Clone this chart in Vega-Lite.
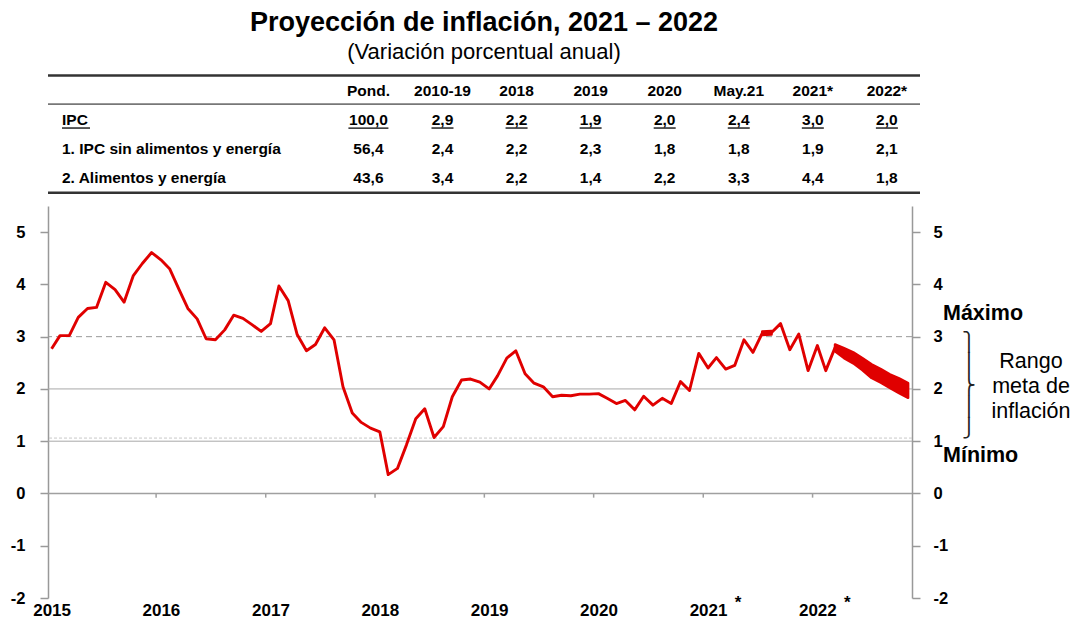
{
  "$schema": "https://vega.github.io/schema/vega-lite/v6.json",
  "background": "white",
  "padding": {"left": 10, "top": 9, "right": 5, "bottom": 0},
  "config": {"view": {"stroke": null}, "font": "Liberation Sans"},
  "bounds": "flush",
  "spacing": 11,
  "datasets": {
    "infl": [
      {"d": "2015-02-01", "v": 2.77}, {"d": "2015-03-01", "v": 3.02}, {"d": "2015-04-01", "v": 3.02}, {"d": "2015-05-01", "v": 3.37},
      {"d": "2015-06-01", "v": 3.54}, {"d": "2015-07-01", "v": 3.56}, {"d": "2015-08-01", "v": 4.04}, {"d": "2015-09-01", "v": 3.90},
      {"d": "2015-10-01", "v": 3.66}, {"d": "2015-11-01", "v": 4.17}, {"d": "2015-12-01", "v": 4.40}, {"d": "2016-01-01", "v": 4.61},
      {"d": "2016-02-01", "v": 4.47}, {"d": "2016-03-01", "v": 4.30}, {"d": "2016-04-01", "v": 3.91}, {"d": "2016-05-01", "v": 3.54},
      {"d": "2016-06-01", "v": 3.34}, {"d": "2016-07-01", "v": 2.96}, {"d": "2016-08-01", "v": 2.94}, {"d": "2016-09-01", "v": 3.13},
      {"d": "2016-10-01", "v": 3.41}, {"d": "2016-11-01", "v": 3.35}, {"d": "2016-12-01", "v": 3.23}, {"d": "2017-01-01", "v": 3.10},
      {"d": "2017-02-01", "v": 3.25}, {"d": "2017-03-01", "v": 3.97}, {"d": "2017-04-01", "v": 3.69}, {"d": "2017-05-01", "v": 3.04},
      {"d": "2017-06-01", "v": 2.73}, {"d": "2017-07-01", "v": 2.85}, {"d": "2017-08-01", "v": 3.17}, {"d": "2017-09-01", "v": 2.94},
      {"d": "2017-10-01", "v": 2.04}, {"d": "2017-11-01", "v": 1.54}, {"d": "2017-12-01", "v": 1.36}, {"d": "2018-01-01", "v": 1.25},
      {"d": "2018-02-01", "v": 1.18}, {"d": "2018-03-01", "v": 0.36}, {"d": "2018-04-01", "v": 0.48}, {"d": "2018-05-01", "v": 0.93},
      {"d": "2018-06-01", "v": 1.43}, {"d": "2018-07-01", "v": 1.62}, {"d": "2018-08-01", "v": 1.07}, {"d": "2018-09-01", "v": 1.28},
      {"d": "2018-10-01", "v": 1.85}, {"d": "2018-11-01", "v": 2.17}, {"d": "2018-12-01", "v": 2.19}, {"d": "2019-01-01", "v": 2.13},
      {"d": "2019-02-01", "v": 2.00}, {"d": "2019-03-01", "v": 2.25}, {"d": "2019-04-01", "v": 2.59}, {"d": "2019-05-01", "v": 2.73},
      {"d": "2019-06-01", "v": 2.29}, {"d": "2019-07-01", "v": 2.11}, {"d": "2019-08-01", "v": 2.04}, {"d": "2019-09-01", "v": 1.85},
      {"d": "2019-10-01", "v": 1.88}, {"d": "2019-11-01", "v": 1.87}, {"d": "2019-12-01", "v": 1.90}, {"d": "2020-01-01", "v": 1.90},
      {"d": "2020-02-01", "v": 1.91}, {"d": "2020-03-01", "v": 1.82}, {"d": "2020-04-01", "v": 1.72}, {"d": "2020-05-01", "v": 1.78},
      {"d": "2020-06-01", "v": 1.60}, {"d": "2020-07-01", "v": 1.86}, {"d": "2020-08-01", "v": 1.69}, {"d": "2020-09-01", "v": 1.82},
      {"d": "2020-10-01", "v": 1.72}, {"d": "2020-11-01", "v": 2.14}, {"d": "2020-12-01", "v": 1.97}, {"d": "2021-01-01", "v": 2.68},
      {"d": "2021-02-01", "v": 2.40}, {"d": "2021-03-01", "v": 2.60}, {"d": "2021-04-01", "v": 2.38}, {"d": "2021-05-01", "v": 2.45},
      {"d": "2021-06-01", "v": 2.94}, {"d": "2021-07-01", "v": 2.70}, {"d": "2021-08-01", "v": 3.07}, {"d": "2021-09-01", "v": 3.08},
      {"d": "2021-10-01", "v": 3.25}, {"d": "2021-11-01", "v": 2.75}, {"d": "2021-12-01", "v": 3.05}, {"d": "2022-01-01", "v": 2.35},
      {"d": "2022-02-01", "v": 2.83}, {"d": "2022-03-01", "v": 2.35}, {"d": "2022-04-01", "v": 2.79}, {"d": "2022-05-01", "v": 2.69},
      {"d": "2022-06-01", "v": 2.60}, {"d": "2022-07-01", "v": 2.48}, {"d": "2022-08-01", "v": 2.34}, {"d": "2022-09-01", "v": 2.25},
      {"d": "2022-10-01", "v": 2.15}, {"d": "2022-11-01", "v": 2.06}, {"d": "2022-12-01", "v": 1.97}
    ],
    "band": [
      {"d": "2021-08-01", "lo": 3.03, "hi": 3.10, "s": 1}, {"d": "2021-09-01", "lo": 3.04, "hi": 3.11, "s": 1},
      {"d": "2022-04-01", "lo": 2.72, "hi": 2.85, "s": 2}, {"d": "2022-05-01", "lo": 2.59, "hi": 2.78, "s": 2},
      {"d": "2022-06-01", "lo": 2.49, "hi": 2.70, "s": 2}, {"d": "2022-07-01", "lo": 2.36, "hi": 2.59, "s": 2},
      {"d": "2022-08-01", "lo": 2.21, "hi": 2.47, "s": 2}, {"d": "2022-09-01", "lo": 2.12, "hi": 2.38, "s": 2},
      {"d": "2022-10-01", "lo": 2.02, "hi": 2.28, "s": 2}, {"d": "2022-11-01", "lo": 1.92, "hi": 2.20, "s": 2},
      {"d": "2022-12-01", "lo": 1.83, "hi": 2.11, "s": 2}
    ],
    "ticks": [
      {"d": "2016-01-16"}, {"d": "2017-01-16"}, {"d": "2018-01-16"}, {"d": "2019-01-16"},
      {"d": "2020-01-16"}, {"d": "2021-01-16"}, {"d": "2022-01-16"}
    ]
  },
  "vconcat": [
    {
      "width": 872,
      "height": 122,
      "title": {
        "text": "Proyección de inflación, 2021 – 2022",
        "subtitle": "(Variación porcentual anual)",
        "anchor": "middle",
        "font": "Liberation Sans",
        "fontSize": 27,
        "fontWeight": "bold",
        "color": "#000000",
        "subtitleFont": "Liberation Sans",
        "subtitleFontSize": 22,
        "subtitleColor": "#000000",
        "subtitlePadding": 5,
        "offset": 9
      },
      "data": {"values": [
        {"r": 0, "col": 1, "t": "Pond."}, {"r": 0, "col": 2, "t": "2010-19"}, {"r": 0, "col": 3, "t": "2018"}, {"r": 0, "col": 4, "t": "2019"},
        {"r": 0, "col": 5, "t": "2020"}, {"r": 0, "col": 6, "t": "May.21"}, {"r": 0, "col": 7, "t": "2021*"}, {"r": 0, "col": 8, "t": "2022*"},
        {"r": 1, "col": 1, "t": "100,0"}, {"r": 1, "col": 2, "t": "2,9"}, {"r": 1, "col": 3, "t": "2,2"}, {"r": 1, "col": 4, "t": "1,9"},
        {"r": 1, "col": 5, "t": "2,0"}, {"r": 1, "col": 6, "t": "2,4"}, {"r": 1, "col": 7, "t": "3,0"}, {"r": 1, "col": 8, "t": "2,0"},
        {"r": 2, "col": 1, "t": "56,4"}, {"r": 2, "col": 2, "t": "2,4"}, {"r": 2, "col": 3, "t": "2,2"}, {"r": 2, "col": 4, "t": "2,3"},
        {"r": 2, "col": 5, "t": "1,8"}, {"r": 2, "col": 6, "t": "1,8"}, {"r": 2, "col": 7, "t": "1,9"}, {"r": 2, "col": 8, "t": "2,1"},
        {"r": 3, "col": 1, "t": "43,6"}, {"r": 3, "col": 2, "t": "3,4"}, {"r": 3, "col": 3, "t": "2,2"}, {"r": 3, "col": 4, "t": "1,4"},
        {"r": 3, "col": 5, "t": "2,2"}, {"r": 3, "col": 6, "t": "3,3"}, {"r": 3, "col": 7, "t": "4,4"}, {"r": 3, "col": 8, "t": "1,8"}
      ]},
      "layer": [
        {
          "data": {"values": [{}]},
          "mark": {"type": "rule", "color": "#333333", "strokeWidth": 2.5},
          "encoding": {"y": {"datum": -0.53, "type": "quantitative", "scale": {"domain": [-0.62, 3.57], "reverse": true, "nice": false, "zero": false}, "axis": null}}
        },
        {
          "data": {"values": [{}]},
          "mark": {"type": "rule", "color": "#777777", "strokeWidth": 1.8},
          "encoding": {"y": {"datum": 0.45, "type": "quantitative", "axis": null}}
        },
        {
          "data": {"values": [{}]},
          "mark": {"type": "rule", "color": "#333333", "strokeWidth": 2.5},
          "encoding": {"y": {"datum": 3.49, "type": "quantitative", "axis": null}}
        },
        {
          "mark": {"type": "text", "fontSize": 15.5, "fontWeight": "bold", "color": "#000000", "align": "center", "baseline": "middle"},
          "encoding": {
            "x": {"field": "col", "type": "quantitative", "scale": {"domain": [-3.326, 8.447], "nice": false, "zero": false}, "axis": null},
            "y": {"field": "r", "type": "quantitative", "axis": null},
            "text": {"field": "t"}
          }
        },
        {
          "data": {"values": [
            {"r": 1, "lbl": "IPC"}, {"r": 2, "lbl": "1. IPC sin alimentos y energía"}, {"r": 3, "lbl": "2. Alimentos y energía"}
          ]},
          "mark": {"type": "text", "fontSize": 15.5, "fontWeight": "bold", "color": "#000000", "align": "left", "baseline": "middle", "dx": 14},
          "encoding": {
            "x": {"datum": -3.326, "type": "quantitative"},
            "y": {"field": "r", "type": "quantitative", "axis": null},
            "text": {"field": "lbl"}
          }
        },
        {
          "transform": [{"filter": "datum.r == 1 && datum.col > 1"}],
          "mark": {"type": "rule", "color": "#000000", "strokeWidth": 1.3, "xOffset": -11, "x2Offset": 11},
          "encoding": {
            "x": {"field": "col", "type": "quantitative"},
            "x2": {"field": "col"},
            "y": {"datum": 1.27, "type": "quantitative", "axis": null}
          }
        },
        {
          "transform": [{"filter": "datum.r == 1 && datum.col == 1"}],
          "mark": {"type": "rule", "color": "#000000", "strokeWidth": 1.3, "xOffset": -20, "x2Offset": 20},
          "encoding": {
            "x": {"field": "col", "type": "quantitative"},
            "x2": {"field": "col"},
            "y": {"datum": 1.27, "type": "quantitative", "axis": null}
          }
        },
        {
          "data": {"values": [{}]},
          "mark": {"type": "rule", "color": "#000000", "strokeWidth": 1.3, "xOffset": 14, "x2Offset": 42},
          "encoding": {
            "x": {"datum": -3.326, "type": "quantitative"},
            "x2": {"datum": -3.326},
            "y": {"datum": 1.27, "type": "quantitative", "axis": null}
          }
        }
      ]
    },
    {
      "width": 864,
      "height": 392,
      "layer": [
        {
          "data": {"values": [{}]},
          "mark": {"type": "rule", "color": "#9a9a9a", "strokeWidth": 1, "strokeDash": [6, 4]},
          "encoding": {"y": {"datum": 3, "type": "quantitative", "axis": null}}
        },
        {
          "data": {"values": [{}]},
          "mark": {"type": "rule", "color": "#a8a8a8", "strokeWidth": 1},
          "encoding": {"y": {"datum": 2, "type": "quantitative", "axis": null}}
        },
        {
          "data": {"values": [{}]},
          "mark": {"type": "rule", "color": "#c8c8c8", "strokeWidth": 1, "strokeDash": [3, 2]},
          "encoding": {"y": {"datum": 1.06, "type": "quantitative", "axis": null}}
        },
        {
          "data": {"values": [{}]},
          "mark": {"type": "rule", "color": "#a8a8a8", "strokeWidth": 1},
          "encoding": {"y": {"datum": 1, "type": "quantitative", "axis": null}}
        },
        {
          "data": {"values": [{}]},
          "mark": {"type": "rule", "color": "#a0a0a0", "strokeWidth": 1.5},
          "encoding": {"y": {"datum": 0, "type": "quantitative", "axis": null}}
        },
        {
          "data": {"name": "ticks"},
          "mark": {"type": "rule", "color": "#a0a0a0", "strokeWidth": 1.5},
          "encoding": {
            "x": {"field": "d", "type": "temporal", "title": null},
            "y": {"datum": 0, "type": "quantitative", "axis": null},
            "y2": {"datum": -0.08}
          }
        },
        {
          "data": {"name": "band"},
          "mark": {"type": "area", "color": "#E00000", "stroke": "#E00000", "strokeWidth": 2.5, "strokeJoin": "round"},
          "encoding": {
            "x": {"field": "d", "type": "temporal", "title": null},
            "y": {
              "field": "hi", "type": "quantitative", "title": null,
              "scale": {"domain": [-2, 5.5], "nice": false, "zero": false},
              "axis": {
                "orient": "right", "values": [-2, -1, 0, 1, 2, 3, 4, 5], "grid": false,
                "labelExpr": "datum.value < 0 ? '-' + (-datum.value) : '' + datum.value",
                "tickSize": 8, "tickColor": "#999999", "tickWidth": 1.5, "domainColor": "#999999", "domainWidth": 1.5,
                "labelFontSize": 16.5, "labelFontWeight": "bold", "labelColor": "#000000", "labelPadding": 13, "title": null
              }
            },
            "y2": {"field": "lo"},
            "detail": {"field": "s", "type": "nominal"}
          }
        },
        {
          "data": {"name": "infl"},
          "mark": {"type": "line", "color": "#E00000", "strokeWidth": 2.9, "strokeJoin": "round"},
          "encoding": {
            "x": {
              "field": "d", "type": "temporal", "title": null,
              "scale": {"type": "utc", "domain": [{"year": 2015, "month": 1, "date": 20, "utc": true}, {"year": 2022, "month": 12, "date": 14, "utc": true}]},
              "axis": {
                "values": [
                  {"year": 2015, "month": 2, "date": 1, "utc": true}, {"year": 2016, "month": 2, "date": 1, "utc": true},
                  {"year": 2017, "month": 2, "date": 1, "utc": true}, {"year": 2018, "month": 2, "date": 1, "utc": true},
                  {"year": 2019, "month": 2, "date": 1, "utc": true}, {"year": 2020, "month": 2, "date": 1, "utc": true},
                  {"year": 2021, "month": 2, "date": 1, "utc": true}, {"year": 2022, "month": 2, "date": 1, "utc": true}
                ],
                "labelExpr": "utcFormat(datum.value, '%Y')",
                "ticks": false, "domain": false, "grid": false,
                "labelFontSize": 17, "labelFontWeight": "bold", "labelColor": "#000000", "labelPadding": 4,
                "labelOverlap": false, "labelFlush": false, "title": null
              }
            },
            "y": {
              "field": "v", "type": "quantitative", "title": null,
              "scale": {"domain": [-2, 5.5], "nice": false, "zero": false},
              "axis": {
                "orient": "left", "values": [-2, -1, 0, 1, 2, 3, 4, 5], "grid": false,
                "labelExpr": "datum.value < 0 ? '-' + (-datum.value) : '' + datum.value",
                "tickSize": 8, "tickColor": "#999999", "tickWidth": 1.5, "domainColor": "#999999", "domainWidth": 1.5,
                "labelFontSize": 16.5, "labelFontWeight": "bold", "labelColor": "#000000", "labelPadding": 15, "title": null
              }
            }
          }
        },
        {
          "data": {"values": [{"d": "2021-02-01"}, {"d": "2022-02-01"}]},
          "mark": {"type": "text", "text": "*", "fontSize": 17, "fontWeight": "bold", "color": "#000000", "align": "center", "baseline": "top", "dx": 30, "dy": -3},
          "encoding": {
            "x": {"field": "d", "type": "temporal", "title": null},
            "y": {"datum": -2, "type": "quantitative", "axis": null}
          }
        },
        {
          "data": {"values": [{}]},
          "mark": {"type": "text", "text": "Máximo", "fontSize": 21.5, "fontWeight": "bold", "color": "#000000", "align": "left", "baseline": "middle", "dx": 31},
          "encoding": {
            "x": {"datum": {"year": 2022, "month": 12, "date": 14, "utc": true}, "type": "temporal"},
            "y": {"datum": 3.43, "type": "quantitative", "axis": null}
          }
        },
        {
          "data": {"values": [{}]},
          "mark": {"type": "text", "text": "Mínimo", "fontSize": 21.5, "fontWeight": "bold", "color": "#000000", "align": "left", "baseline": "middle", "dx": 31},
          "encoding": {
            "x": {"datum": {"year": 2022, "month": 12, "date": 14, "utc": true}, "type": "temporal"},
            "y": {"datum": 0.71, "type": "quantitative", "axis": null}
          }
        },
        {
          "data": {"values": [{}]},
          "mark": {"type": "text", "text": ["Rango", "meta de", "inflación"], "fontSize": 21.5, "color": "#000000", "align": "center", "baseline": "middle", "lineHeight": 25, "dx": 119},
          "encoding": {
            "x": {"datum": {"year": 2022, "month": 12, "date": 14, "utc": true}, "type": "temporal"},
            "y": {"datum": 2.52, "type": "quantitative", "axis": null}
          }
        },
        {
          "data": {"values": [{}]},
          "mark": {"type": "text", "text": ["⎫", "⎪", "⎬", "⎪", "⎭"], "font": "DejaVu Sans", "fontSize": 18.5, "lineHeight": 21.6, "color": "#222222", "align": "center", "baseline": "middle", "dx": 57},
          "encoding": {
            "x": {"datum": {"year": 2022, "month": 12, "date": 14, "utc": true}, "type": "temporal"},
            "y": {"datum": 2.9, "type": "quantitative", "axis": null}
          }
        }
      ],
      "resolve": {"axis": {"y": "independent"}}
    }
  ]
}
